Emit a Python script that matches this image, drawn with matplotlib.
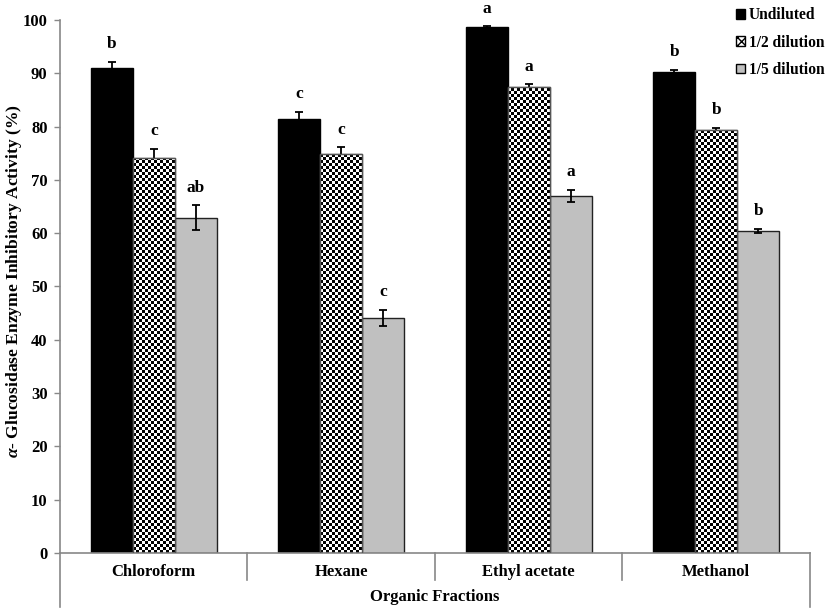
import matplotlib
matplotlib.use('Agg')
import matplotlib.pyplot as plt
from matplotlib.patches import Patch
import numpy as np

plt.rcParams['font.family'] = 'Liberation Serif'
plt.rcParams['font.weight'] = 'bold'
plt.rcParams['mathtext.fontset'] = 'custom'
plt.rcParams['mathtext.rm'] = 'Liberation Serif:bold'
plt.rcParams['mathtext.it'] = 'Liberation Serif:italic:bold'

# data
fractions = ['Chloroform', 'Hexane', 'Ethyl acetate', 'Methanol']
series = ['Undiluted', '1/2 dilution', '1/5 dilution']
undiluted = [91.0, 81.5, 98.6, 90.2]
half = [74.2, 74.9, 87.5, 79.4]
fifth = [62.9, 44.1, 67.0, 60.4]
undiluted_err = [1.1, 1.3, 0.2, 0.5]
half_err = [1.6, 1.2, 0.4, 0.3]
fifth_err = [2.3, 1.5, 1.1, 0.4]
undiluted_let = ['b', 'c', 'a', 'b']
half_let = ['c', 'c', 'a', 'b']
fifth_let = ['ab', 'c', 'a', 'b']

fig = plt.figure(figsize=(8.29, 6.15), dpi=100)
ax = fig.add_axes([0.0724, 0.1008, 0.9046, 0.8667])

x = np.arange(len(fractions))
w = 0.224
vals = [undiluted, half, fifth]
errs = [undiluted_err, half_err, fifth_err]
lets = [undiluted_let, half_let, fifth_let]
faces = ['black', 'white', '#c0c0c0']
edges = ['black', '#555555', '#222222']

for k in range(3):
    pos = x + (k - 1) * w
    bars = ax.bar(pos, vals[k], w, color=faces[k], edgecolor=edges[k], linewidth=1.0,
                  yerr=errs[k], capsize=3,
                  error_kw=dict(ecolor='black', elinewidth=1.3, capthick=1.3), zorder=2)
    if k == 1:
        # checkerboard fill clipped to each bar
        for b in bars:
            h = b.get_height()
            nx = 14
            ny = int(round(h / 0.5625))
            board = (np.indices((ny, nx)).sum(axis=0) % 2).astype(float)
            im = ax.imshow(board, cmap='gray', interpolation='nearest', aspect='auto',
                           extent=[b.get_x(), b.get_x() + w, 0, ny * 0.5625],
                           zorder=2.5)
            im.set_clip_path(b)
            ax.bar(b.get_x() + w / 2, h, w, fill=False, edgecolor='#555555',
                   linewidth=1.0, zorder=2.6)
    for p, v, e, t in zip(pos, vals[k], errs[k], lets[k]):
        ax.text(p, v + e + 2.6, t, ha='center', va='baseline', fontsize=12.5,
                fontweight='bold')

ax.set_xlim(-0.5, 3.5)
ax.set_ylim(0, 100)
ax.set_yticks(range(0, 101, 10))
ax.set_xticks([])
ax.tick_params(axis='y', direction='out', length=4, width=1, color='#888888',
               labelsize=12, pad=5)
for lab in ax.get_yticklabels():
    lab.set_fontweight('bold')
for s in ['top', 'right']:
    ax.spines[s].set_visible(False)
for s in ['left', 'bottom']:
    ax.spines[s].set_color('#888888')
    ax.spines[s].set_linewidth(1.2)

# category table under the axis
tr = ax.get_xaxis_transform()
for b in [0.5, 1.5, 2.5]:
    ax.plot([b, b], [0, -0.05], transform=tr, color='#888888', lw=1.2, clip_on=False)
for b in [-0.5, 3.5]:
    ax.plot([b, b], [0, -0.101], transform=tr, color='#888888', lw=1.2, clip_on=False)
for xi, name in zip(x, fractions):
    ax.text(xi, -0.036, name, transform=tr, ha='center', va='center', fontsize=12,
            fontweight='bold')
ax.text(1.5, -0.083, 'Organic Fractions', transform=tr, ha='center', va='center',
        fontsize=12, fontweight='bold')

ax.set_ylabel(r'$α$- Glucosidase Enzyme Inhibitory Activity (%)', fontsize=12.6,
              fontweight='bold', va='center')
ax.yaxis.set_label_coords(-0.061, 0.51)

handles = [Patch(facecolor='black', edgecolor='black'),
           Patch(facecolor='white', edgecolor='black', hatch='xxxx'),
           Patch(facecolor='#c0c0c0', edgecolor='black')]
fig.legend(handles, series, loc='upper left', bbox_to_anchor=(0.888, 0.988),
           frameon=False, borderpad=0, borderaxespad=0, handlelength=0.55,
           handleheight=0.55, labelspacing=0.72, handletextpad=0.25,
           prop=dict(family='Liberation Serif', weight='bold', size=11.2))

fig.savefig('out.png', dpi=100)
